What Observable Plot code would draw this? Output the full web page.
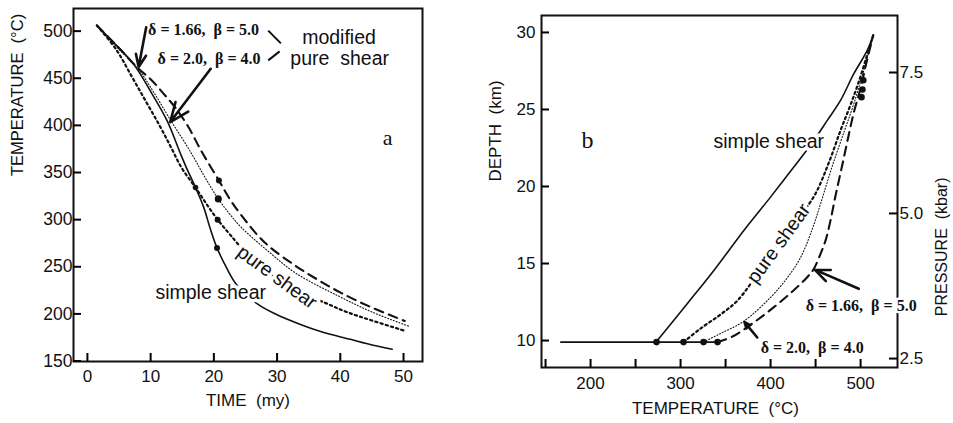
<!DOCTYPE html>
<html><head><meta charset="utf-8">
<script src="https://cdn.jsdelivr.net/npm/d3@7"></script>
<script src="https://cdn.jsdelivr.net/npm/@observablehq/plot@0.6"></script>
<style>
body{margin:0;background:#fff;}
#wrap{display:flex;width:953px;height:423px;overflow:hidden;}
#wrap svg{display:block;}
g[aria-label="wide label"] text{letter-spacing:0.6px;}
g[aria-label="param label"] text{letter-spacing:0.3px;}
</style></head><body><div id="wrap"></div>
<script>
// ---------- Panel a: temperature vs time ----------
const timeTicks = [0, 10, 20, 30, 40, 50];
const tempTicks = [150, 200, 250, 300, 350, 400, 450, 500];

const timeSimple = [1.5, 4, 7.3, 10, 12.6, 14.6, 15.6, 17.1, 18.4, 19.4, 20.5, 22, 23.6, 27, 30, 33.6, 37, 41.6, 45, 48.2];
const tempSimple = [506, 489, 465, 436, 405, 372, 356, 334, 313, 291, 270, 249, 231, 210, 199, 189, 181, 173, 167, 162.5];

const timePure = [1.5, 4.6, 7, 9.2, 11.4, 13.2, 14.9, 17.1, 19, 20.6, 22.7, 26, 30, 33, 37.5, 41, 45, 50.2];
const tempPure = [506, 480, 452, 426, 400, 377, 355, 334, 315, 300, 283, 258, 237, 224, 212, 202, 193, 182];

const timeD20 = [1.5, 4.5, 8, 10.5, 13.3, 16.3, 18.5, 20.7, 22.5, 24.3, 28.5, 33, 39.7, 45, 50.8];
const tempD20 = [506, 484, 460, 435, 404, 372, 346, 322, 306, 292, 267, 243, 219, 202, 187];

const timeD166 = [1.5, 4.5, 8.1, 10, 12, 14, 16, 18, 20.8, 22.5, 24.3, 28, 32.7, 36.5, 40.2, 44.9, 50.2];
const tempD166 = [506, 485.5, 460, 449, 434, 418, 398, 373, 341.5, 322, 305, 276, 252, 236, 222, 207, 192.5];

const dotTimeA = [20.8, 20.7, 20.6, 20.5, 17.1];
const dotTempA = [341.5, 322, 300, 270, 334];
const dotSizeA = [3, 4.2, 3, 3, 2.6];

// ---------- Panel b: depth vs temperature ----------
const tempTicksB = [150, 200, 250, 300, 350, 400, 450, 500];
const tempLabelsB = [200, 300, 400, 500];
const depthTicks = [10, 15, 20, 25, 30];
const pressureLabels = ["2.5", "5.0", "7.5"];
const pressureTickDepths = [8.83, 18.25, 27.4];

const baseTemp = [167, 341];
const baseDepth = [9.9, 9.9];

const tempSimpleB = [273.3, 307.4, 337, 370.3, 399.9, 425.8, 448.1, 463, 477.7, 492.5, 507.4, 514];
const depthSimpleB = [9.94, 12.39, 14.55, 17.15, 19.31, 21.26, 22.99, 24.29, 25.59, 27.32, 28.83, 29.81];

const tempPureB = [303.3, 322.2, 344.4, 363.3, 386.6, 408.8, 428.8, 448.8, 464.4, 477.7, 487.7, 496.6, 505.5, 514];
const depthPureB = [9.9, 10.78, 11.69, 12.6, 14.42, 16.3, 17.8, 19.42, 21.5, 23.64, 25.13, 26.56, 28.19, 29.81];

const tempD20B = [325.5, 344.4, 369.9, 399.9, 418.8, 433.3, 446.6, 457.7, 468.8, 482.2, 491.1, 498.8, 506.6, 514];
const depthD20B = [9.9, 10.46, 11.24, 12.8, 14.09, 15.39, 17.28, 19.29, 21.37, 23.64, 25.13, 26.56, 28.19, 29.81];

const tempD166B = [341.1, 357.7, 379.9, 403.3, 425.5, 440.7, 448.1, 455.5, 461.1, 466.6, 472.2, 478.8, 485.5, 492.2, 499.9, 506.6, 514];
const depthD166B = [9.9, 10.26, 11.11, 12.15, 13.25, 14.11, 14.66, 15.63, 16.5, 17.8, 19.42, 21.17, 22.99, 24.74, 26.37, 28.06, 29.81];

const dotTempB = [273.3, 303.3, 325.5, 341.1, 503, 502, 501];
const dotDepthB = [9.9, 9.9, 9.9, 9.9, 26.9, 26.3, 25.8];

// ---------- helpers ----------
const zip = (xs, ys) => xs.map((x, i) => ({x, y: ys[i]}));
const sans = "'Liberation Sans', Arial, Helvetica, sans-serif";
const serif = "'Liberation Serif', 'Times New Roman', serif";
const ink = "#111";
const TICK = 8;

// Annotation records (data units)
const annA = {
  simple: {x: 19.5, y: 222, text: "simple shear"},
  pure: {x: 30.0, y: 239, text: "pure shear", rotate: 36},
  letter: {x: 47.5, y: 387, text: "a"},
  d166: {x: 9.6, y: 501, text: "δ = 1.66,  β = 5.0"},
  d20: {x: 11.1, y: 471, text: "δ = 2.0,  β = 4.0"},
  mod1: {x: 39.8, y: 493, text: "modified"},
  mod2: {x: 39.9, y: 471, text: "pure  shear"}
};
const arrowsA = [{x1: 9.3, y1: 504, x2: 8.1, y2: 462}, {x1: 19.5, y1: 460, x2: 13.1, y2: 403.5}];
const connA = [{x1: 28.6, y1: 500.5, x2: 30.6, y2: 487}, {x1: 28.6, y1: 469, x2: 30.4, y2: 478.5}];

const annB = {
  simple: {x: 398, y: 22.9, text: "simple shear"},
  pure: {x: 409, y: 16.3, text: "pure shear", rotate: -54},
  letter: {x: 196.7, y: 23.0, text: "b"},
  d166: {x: 439, y: 12.27, text: "δ = 1.66,  β = 5.0"},
  d20: {x: 389, y: 9.55, text: "δ = 2.0,  β = 4.0"}
};
const arrowsB = [{x1: 498, y1: 13.36, x2: 449, y2: 14.6}, {x1: 385.2, y1: 10.2, x2: 371, y2: 11.2}];

function txt(a, opts) {
  return Plot.text([a], {x: "x", y: "y", text: "text", rotate: a.rotate || 0, ...opts});
}

const lineSolid = {stroke: ink, strokeWidth: 1.6, curve: "catmull-rom"};
const linePure = {stroke: ink, strokeWidth: 2.2, strokeDasharray: "2.2,3.2", curve: "catmull-rom"};
const lineD20 = {stroke: ink, strokeWidth: 1.1, strokeDasharray: "1,2", curve: "catmull-rom"};
const lineD166 = {stroke: ink, strokeWidth: 2.1, strokeDasharray: "9,6", curve: "catmull-rom"};

// panel geometry
const A = {w: 480, h: 423, ml: 73, mr: 58, mt: 8, mb: 62};
const B = {w: 473, h: 423, ml: 61, mr: 56, mt: 15, mb: 56};
const innerW = (p) => p.w - p.ml - p.mr;
const innerH = (p) => p.h - p.mt - p.mb;

const plotA = Plot.plot({
  width: A.w, height: A.h,
  marginLeft: A.ml, marginRight: A.mr, marginTop: A.mt, marginBottom: A.mb,
  style: {fontFamily: sans, fontSize: "17px", color: ink, background: "white", overflow: "visible"},
  x: {domain: [-2.2, 53]},
  y: {domain: [149.5, 524]},
  marks: [
    Plot.frame({stroke: ink, strokeWidth: 2}),
    // inward tick marks
    Plot.ruleX(timeTicks, {x: d => d, insetTop: innerH(A) - TICK, stroke: "black", strokeWidth: 2}),
    Plot.ruleY(tempTicks, {y: d => d, insetRight: innerW(A) - TICK, stroke: "black", strokeWidth: 2}),
    // tick labels
    Plot.axisX(timeTicks, {tickSize: 0, tickPadding: 8, fontSize: 17, label: null}),
    Plot.axisY(tempTicks, {tickSize: 0, tickPadding: 1, fontSize: 17.5, label: null}),
    Plot.text(["TIME  (my)"], {frameAnchor: "bottom", dy: 44, fontSize: 17}),
    Plot.text(["TEMPERATURE  (°C)"], {frameAnchor: "left", rotate: -90, dx: -56, dy: -9, fontSize: 16.5}),
    Plot.line(zip(timeSimple, tempSimple), {x: "x", y: "y", ...lineSolid}),
    Plot.line(zip(timePure, tempPure), {x: "x", y: "y", ...linePure}),
    Plot.line(zip(timeD20, tempD20), {x: "x", y: "y", ...lineD20}),
    Plot.line(zip(timeD166, tempD166), {x: "x", y: "y", ...lineD166}),
    Plot.dot(dotTimeA.map((t, i) => ({x: t, y: dotTempA[i], r: dotSizeA[i]})), {x: "x", y: "y", r: "r", fill: ink, stroke: null}),
    txt(annA.simple, {fontSize: 19.5, fill: ink, stroke: "white", strokeWidth: 7, ariaLabel: "wide label"}),
    txt(annA.pure, {fontSize: 19.5, fill: ink, stroke: "white", strokeWidth: 7, ariaLabel: "wide label"}),
    txt(annA.letter, {fontSize: 22, fontFamily: serif, fill: ink}),
    txt(annA.d166, {fontSize: 16, fontFamily: serif, fontWeight: "bold", textAnchor: "start", fill: ink, ariaLabel: "param label"}),
    txt(annA.d20, {fontSize: 16, fontFamily: serif, fontWeight: "bold", textAnchor: "start", fill: ink, ariaLabel: "param label"}),
    txt(annA.mod1, {fontSize: 19.5, fill: ink, ariaLabel: "wide label"}),
    txt(annA.mod2, {fontSize: 19.5, fill: ink, ariaLabel: "wide label"}),
    Plot.arrow(arrowsA, {x1: "x1", y1: "y1", x2: "x2", y2: "y2", stroke: ink, strokeWidth: 2.6, headLength: 12, headAngle: 45}),
    Plot.link(connA, {x1: "x1", y1: "y1", x2: "x2", y2: "y2", stroke: ink, strokeWidth: 2})
  ]
});

const pressureByDepth = new Map(pressureTickDepths.map((d, i) => [d, pressureLabels[i]]));

const plotB = Plot.plot({
  width: B.w, height: B.h,
  marginLeft: B.ml, marginRight: B.mr, marginTop: B.mt, marginBottom: B.mb,
  style: {fontFamily: sans, fontSize: "17px", color: ink, background: "white", overflow: "visible"},
  x: {domain: [145.5, 541]},
  y: {domain: [8.25, 31.1]},
  marks: [
    Plot.frame({stroke: ink, strokeWidth: 2}),
    Plot.ruleX(tempTicksB, {x: d => d, insetTop: innerH(B) - TICK, stroke: "black", strokeWidth: 2}),
    Plot.ruleY(depthTicks, {y: d => d, insetRight: innerW(B) - TICK, stroke: "black", strokeWidth: 2}),
    Plot.ruleY(pressureTickDepths, {y: d => d, insetLeft: innerW(B) - TICK, stroke: "black", strokeWidth: 2}),
    Plot.axisX(tempLabelsB, {tickSize: 0, tickPadding: 9, fontSize: 17, label: null}),
    Plot.axisY(depthTicks, {tickSize: 0, tickPadding: 6, fontSize: 17, label: null}),
    Plot.axisY(pressureTickDepths, {anchor: "right", tickSize: 0, tickPadding: 2, fontSize: 17, label: null, tickFormat: d => pressureByDepth.get(d)}),
    Plot.text(["TEMPERATURE  (°C)"], {frameAnchor: "bottom", dx: -4, dy: 46, fontSize: 17}),
    Plot.text(["DEPTH  (km)"], {frameAnchor: "left", rotate: -90, dx: -46, dy: -10, fontSize: 17}),
    Plot.text(["PRESSURE  (kbar)"], {frameAnchor: "right", rotate: -90, dx: 44, dy: -14, fontSize: 16}),
    Plot.line(zip(baseTemp, baseDepth), {x: "x", y: "y", stroke: ink, strokeWidth: 1.8}),
    Plot.line(zip(tempSimpleB, depthSimpleB), {x: "x", y: "y", ...lineSolid}),
    Plot.line(zip(tempPureB, depthPureB), {x: "x", y: "y", ...linePure}),
    Plot.line(zip(tempD20B, depthD20B), {x: "x", y: "y", ...lineD20}),
    Plot.line(zip(tempD166B, depthD166B), {x: "x", y: "y", ...lineD166}),
    Plot.dot(zip(dotTempB, dotDepthB), {x: "x", y: "y", r: 3.3, fill: ink, stroke: null}),
    txt(annB.simple, {fontSize: 19.5, fill: ink, stroke: "white", strokeWidth: 7, ariaLabel: "wide label"}),
    txt(annB.pure, {fontSize: 19.5, fill: ink, stroke: "white", strokeWidth: 7, ariaLabel: "wide label"}),
    txt(annB.letter, {fontSize: 24, fontFamily: serif, fill: ink}),
    txt(annB.d166, {fontSize: 16, fontFamily: serif, fontWeight: "bold", textAnchor: "start", fill: ink, stroke: "white", strokeWidth: 5, ariaLabel: "param label"}),
    txt(annB.d20, {fontSize: 16, fontFamily: serif, fontWeight: "bold", textAnchor: "start", fill: ink, stroke: "white", strokeWidth: 4, ariaLabel: "param label"}),
    Plot.arrow(arrowsB, {x1: "x1", y1: "y1", x2: "x2", y2: "y2", stroke: ink, strokeWidth: 2.6, headLength: 12, headAngle: 45})
  ]
});

const wrap = document.getElementById("wrap");
wrap.appendChild(plotA);
wrap.appendChild(plotB);
</script>
</body></html>
